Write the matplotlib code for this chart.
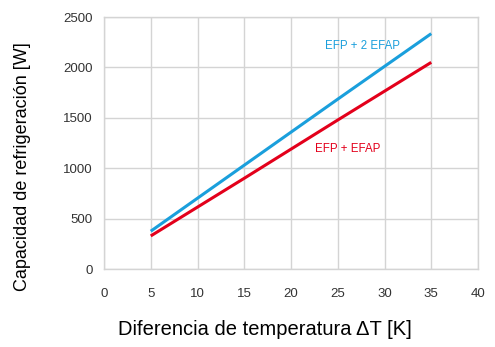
import matplotlib
matplotlib.use("Agg")
import matplotlib.pyplot as plt

matplotlib.rc('font', family=['Liberation Sans', 'DejaVu Sans'])

# temperature difference [K]
delta_t = [5, 15, 25, 35]
# cooling capacity [W]
efp_2efap = [375, 1030, 1685, 2335]
efp_efap = [328, 900, 1478, 2050]

blue = '#1a9fdc'
red = '#e3001b'
grid_c = '#d4d4d4'

fig = plt.figure(figsize=(4.95, 3.47), dpi=100)
ax = fig.add_axes([104 / 495, 1 - 269 / 347, 374 / 495, 252 / 347])

ax.plot(delta_t, efp_2efap, color=blue, lw=2.2, solid_capstyle='butt')
ax.plot(delta_t, efp_efap, color=red, lw=2.2, solid_capstyle='butt')

ax.text(27.6, 2210, 'EFP + 2 EFAP', color=blue, fontsize=8.3,
        ha='center', va='center')
ax.text(26.1, 1190, 'EFP + EFAP', color=red, fontsize=8.3,
        ha='center', va='center')

ax.set_xlim(0, 40)
ax.set_ylim(0, 2500)
ax.set_xticks(range(0, 41, 5))
ax.set_yticks(range(0, 2501, 500))
ax.grid(color=grid_c, lw=1)
ax.set_axisbelow(True)
for s in ax.spines.values():
    s.set_color(grid_c)
    s.set_linewidth(1)
ax.tick_params(length=0, labelsize=9.5, labelcolor='#333333')
ax.tick_params(axis='x', pad=14)
ax.tick_params(axis='y', pad=8)
ax.set_xlabel('Diferencia de temperatura ΔT [K]', fontsize=14.5,
              va='center', ha='center')
ax.set_ylabel('Capacidad de refrigeración [W]', fontsize=13,
              va='center', ha='center')
ax.xaxis.set_label_coords(0.429, -0.242)
ax.yaxis.set_label_coords(-0.219, 0.405)

fig.savefig('out.png', dpi=100, facecolor='w')
